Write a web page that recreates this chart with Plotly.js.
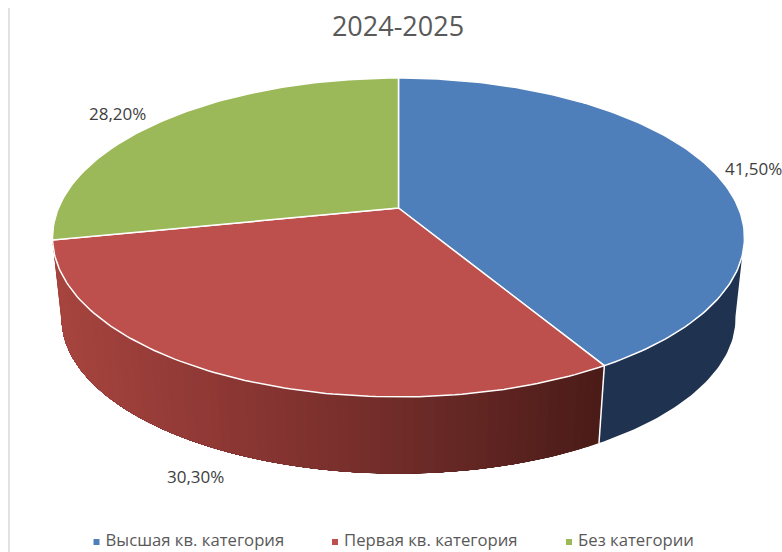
<!DOCTYPE html>
<html>
<head>
<meta charset="utf-8">
<script src="https://cdn.plot.ly/plotly-3.0.1.min.js"></script>
<style>html,body{margin:0;padding:0;background:#fff}#chart{width:782px;height:552px}</style>
</head>
<body>
<div id="chart"></div>
<script>
const chartTitle = "2024-2025";
const categories = ["Высшая кв. категория", "Первая кв. категория", "Без категории"];
const shares = [41.5, 30.3, 28.2];
const shareLabels = ["41,50%", "30,30%", "28,20%"];
const faceColors = ["#4e7fbb", "#bd4f4c", "#9bb958"];

// perspective projection of the tilted disc on to the pixel-scaled axes
const CX = 398.5, CY = 208, A = 340, B = 154, K = 0.185, LOWER = 0.974, LOWER_CY = 289.5;
function project(deg, lower) {
  const t = deg * Math.PI / 180, u = Math.sin(t), v = Math.cos(t), w = 1 + K * v;
  const s = lower ? LOWER : 1, cy = lower ? LOWER_CY : CY;
  return [CX + s * A * u / w, cy - s * B * v / w];
}
function hex(c) { return [1, 3, 5].map(i => parseInt(c.substr(i, 2), 16)); }
const redStops = [[55, "#a8453f"], [240, "#8b3633"], [400, "#702c29"], [600, "#4a1b18"]];
function redWall(x) {
  for (let i = 1; i < redStops.length; i++) {
    if (x <= redStops[i][0]) {
      const f = Math.max(0, (x - redStops[i - 1][0]) / (redStops[i][0] - redStops[i - 1][0]));
      const a = hex(redStops[i - 1][1]), b = hex(redStops[i][1]);
      return "rgb(" + a.map((v, j) => Math.round(v + (b[j] - v) * f)).join(",") + ")";
    }
  }
  return redStops[redStops.length - 1][1];
}
// wall band from angle d0 to d1, painted over the previous band so no seams appear
function wallBand(d0, d1, color) {
  const pts = [], n = Math.max(2, Math.ceil(d1 - d0));
  for (let j = 0; j <= n; j++) pts.push(project(d0 + (d1 - d0) * j / n, false));
  for (let j = n; j >= 0; j--) pts.push(project(d0 + (d1 - d0) * j / n, true));
  pts.push(pts[0]);
  return { type: "scatter", mode: "lines", x: pts.map(p => p[0]), y: pts.map(p => p[1]),
    fill: "toself", fillcolor: color, line: { width: 0 }, hoverinfo: "skip", showlegend: false };
}

const traces = [];
const total = shares.reduce((a, b) => a + b, 0);
const edges = [0];
shares.forEach(v => edges.push(edges[edges.length - 1] + v / total * 360));

// side wall
const redEnd = 260;
traces.push(wallBand(100, edges[1], "#1f3350"));
for (let d = edges[1]; d < redEnd; d += 1.5) {
  traces.push(wallBand(d, redEnd, redWall(project(d + 0.75, true)[0])));
}
// white seam between the two wall colours
const seamTop = project(edges[1], false), seamBottom = project(edges[1], true);
traces.push({ type: "scatter", mode: "lines", x: [seamTop[0], seamBottom[0]], y: [seamTop[1], seamBottom[1]],
  line: { color: "#ffffff", width: 1.5 }, hoverinfo: "skip", showlegend: false });

// top faces
shares.forEach((v, i) => {
  const pts = [[CX, CY]];
  const n = Math.ceil(edges[i + 1] - edges[i]);
  for (let j = 0; j <= n; j++) pts.push(project(edges[i] + (edges[i + 1] - edges[i]) * j / n, false));
  pts.push([CX, CY]);
  traces.push({ type: "scatter", mode: "lines", x: pts.map(p => p[0]), y: pts.map(p => p[1]),
    fill: "toself", fillcolor: faceColors[i], line: { color: "#ffffff", width: 1.5 },
    hoverinfo: "text", text: categories[i] + ": " + shareLabels[i], showlegend: false });
});

const font = "'Open Sans', 'Noto Sans', sans-serif";

// legend row
const legendMarkerX = [96.5, 335, 569], legendY = 542;
categories.forEach((c, i) => traces.push({ type: "scatter", mode: "markers+text", x: [legendMarkerX[i]], y: [legendY],
  name: c, text: [" " + c], textposition: "middle right", cliponaxis: false,
  textfont: { family: font, size: 16.7, color: "#595959" },
  marker: { symbol: "square", size: 6, color: faceColors[i] }, showlegend: false, hoverinfo: "skip" }));

const labelPos = [[753, 168], [195, 476], [117, 113]];
const layout = {
  width: 782, height: 552, autosize: false, paper_bgcolor: "#ffffff", plot_bgcolor: "#ffffff",
  margin: { l: 0, r: 0, t: 0, b: 0 },
  title: { text: chartTitle, font: { family: font, size: 27, color: "#595959" }, x: 398 / 782, xanchor: "center", y: 1 - 27 / 552, yanchor: "middle" },
  xaxis: { range: [0, 782], visible: false, fixedrange: true },
  yaxis: { range: [552, 0], visible: false, fixedrange: true },
  showlegend: false,
  shapes: [{ type: "line", xref: "x", yref: "y", x0: 9, x1: 9, y0: 8, y1: 552, line: { color: "#d9d9d9", width: 1.5 } }],
  annotations: shareLabels.map((t, i) => ({ text: t, x: labelPos[i][0], y: labelPos[i][1], xref: "x", yref: "y",
    showarrow: false, font: { family: font, size: 17, color: "#404040" } }))
};
Plotly.newPlot("chart", traces, layout, { displayModeBar: false });
</script>
</body>
</html>
